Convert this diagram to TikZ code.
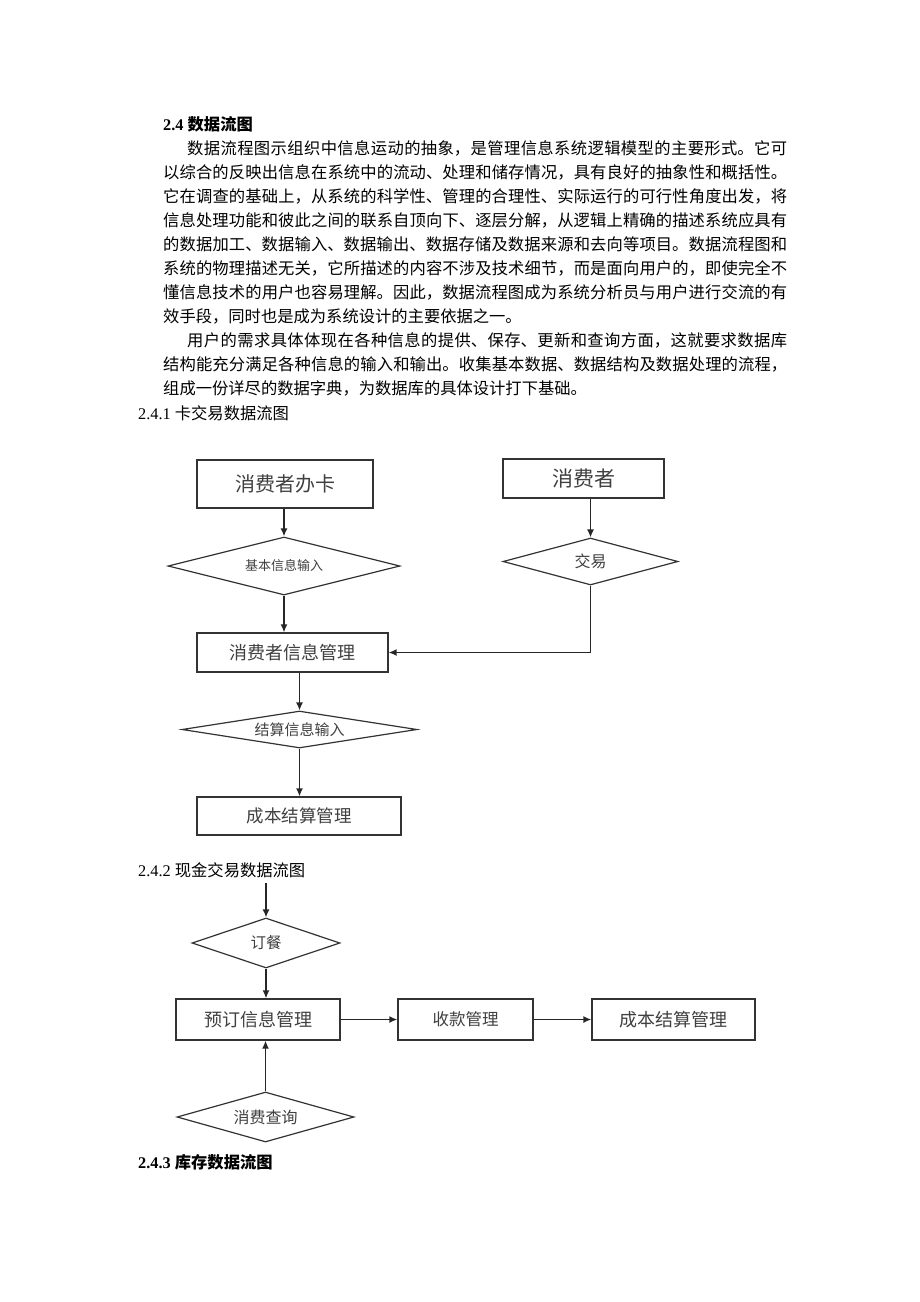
\documentclass[tikz,border=0pt]{standalone}
\usepackage{fontspec}
\setmainfont{Liberation Serif}
\newfontfamily\cjk{Noto Sans CJK SC}
\usepackage{tikz}
\usetikzlibrary{arrows.meta,shapes.geometric}
\XeTeXlinebreaklocale "zh"
\XeTeXlinebreakskip=0pt plus 2pt
\newcommand{\zhfont}[1]{\cjk\fontsize{#1}{#1}\selectfont}

\begin{document}
\begin{tikzpicture}[x=1pt, y=-1pt,
  proc/.style={rectangle, draw=black!80, line width=1.3pt, text=black!75, inner sep=0pt},
  decide/.style={diamond, aspect=4, draw=black!80, line width=1.2pt, text=black!75, inner sep=0pt},
  flow/.style={-{Latex[length=8pt,width=7pt]}, draw=black!85, line width=1.4pt},
  head/.style={anchor=west, inner sep=0pt, font=\fontsize{16.3}{16.3}\selectfont}
]
\useasboundingbox[fill=white] (0,0) rectangle (920,1302);

\node[head] (h24) at (163,124) {\textbf{2.4 {\cjk 数据流图}}};
\node[anchor=north west, inner sep=0pt, text width=624pt, align=justify,
  font=\cjk\fontsize{16.3}{24}\selectfont] (body) at (163,140) {%
\noindent\hspace*{24pt}数据流程图示组织中信息运动的抽象，是管理信息系统逻辑模型的主要形式。它可\linebreak
以综合的反映出信息在系统中的流动、处理和储存情况，具有良好的抽象性和概括性。\linebreak
它在调查的基础上，从系统的科学性、管理的合理性、实际运行的可行性角度出发，将\linebreak
信息处理功能和彼此之间的联系自顶向下、逐层分解，从逻辑上精确的描述系统应具有\linebreak
的数据加工、数据输入、数据输出、数据存储及数据来源和去向等项目。数据流程图和\linebreak
系统的物理描述无关，它所描述的内容不涉及技术细节，而是面向用户的，即使完全不\linebreak
懂信息技术的用户也容易理解。因此，数据流程图成为系统分析员与用户进行交流的有\linebreak
效手段，同时也是成为系统设计的主要依据之一。\par
\noindent\hspace*{24pt}用户的需求具体体现在各种信息的提供、保存、更新和查询方面，这就要求数据库\linebreak
结构能充分满足各种信息的输入和输出。收集基本数据、数据结构及数据处理的流程，\linebreak
组成一份详尽的数据字典，为数据库的具体设计打下基础。};

\node[head] (h241) at (138,413) {2.4.1 {\cjk 卡交易数据流图}};

\node[proc, minimum width=176pt, minimum height=48pt, font=\zhfont{20}] (card) at (285,484) {消费者办卡};
\node[proc, minimum width=161pt, minimum height=39pt, font=\zhfont{21}] (cons) at (583.5,478.5) {消费者};
\node[decide, minimum width=232pt, minimum height=58pt, font=\zhfont{13}] (basic) at (284,566) {基本信息输入};
\node[decide, minimum width=175pt, minimum height=47pt, font=\zhfont{16}] (trade) at (590.5,561.5) {交易};
\node[proc, minimum width=191pt, minimum height=39pt, font=\zhfont{18}] (info) at (292.5,652.5) {消费者信息管理};
\node[decide, minimum width=235pt, minimum height=37pt, font=\zhfont{15}] (settle) at (299.5,729.5) {结算信息输入};
\node[proc, minimum width=204pt, minimum height=38pt, font=\zhfont{17.5}] (costA) at (299,816) {成本结算管理};

\draw[flow] (basic.north |- card.south) -- (basic.north);
\draw[flow] (basic.south) -- (basic.south |- info.north);
\draw[flow] (trade.north |- cons.south) -- (trade.north);
\draw[flow] (trade.south) |- (info.east);
\draw[flow] (settle.north |- info.south) -- (settle.north);
\draw[flow] (settle.south) -- (settle.south |- costA.north);

\node[head] (h242) at (138,870) {2.4.2 {\cjk 现金交易数据流图}};

\coordinate (start) at (266,883);
\node[decide, minimum width=148pt, minimum height=50pt, font=\zhfont{15.5}] (order) at (266,943) {订餐};
\node[proc, minimum width=164pt, minimum height=41pt, font=\zhfont{18}] (book) at (258,1019.5) {预订信息管理};
\node[proc, minimum width=135pt, minimum height=41pt, font=\zhfont{16.5}] (pay) at (465.5,1019.5) {收款管理};
\node[proc, minimum width=163pt, minimum height=41pt, font=\zhfont{18}] (costB) at (673.5,1019.5) {成本结算管理};
\node[decide, minimum width=177pt, minimum height=50pt, font=\zhfont{16}] (query) at (265.5,1117) {消费查询};

\draw[flow] (start) -- (order.north);
\draw[flow] (order.south) -- (order.south |- book.north);
\draw[flow] (book.east) -- (pay.west);
\draw[flow] (pay.east) -- (costB.west);
\draw[flow] (query.north) -- (query.north |- book.south);

\node[head] (h243) at (138,1162) {\textbf{2.4.3 {\cjk 库存数据流图}}};
\end{tikzpicture}
\end{document}
